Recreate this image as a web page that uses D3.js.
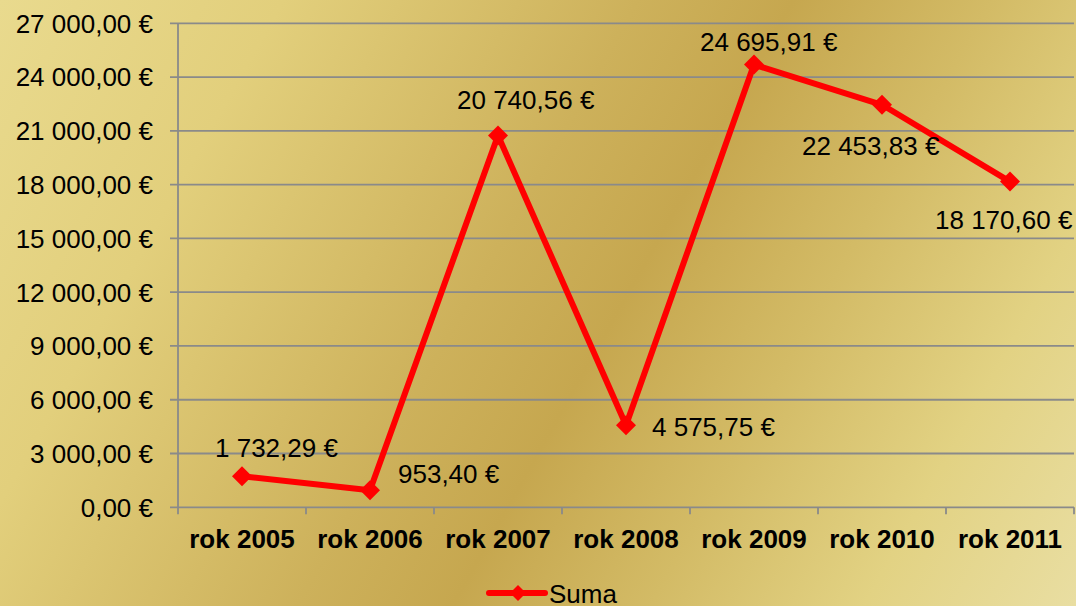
<!DOCTYPE html>
<html>
<head>
<meta charset="utf-8">
<script src="https://cdn.jsdelivr.net/npm/d3@7"></script>
<style>
  body { margin: 0; }
  svg { display: block; font-family: "Liberation Sans", Arial, sans-serif; }
</style>
</head>
<body>
<div id="chart"></div>
<script>
// data
var years = ["rok 2005", "rok 2006", "rok 2007", "rok 2008", "rok 2009", "rok 2010", "rok 2011"];
var suma = [1732.29, 953.40, 20740.56, 4575.75, 24695.91, 22453.83, 18170.60];
var yTicks = [0, 3000, 6000, 9000, 12000, 15000, 18000, 21000, 24000, 27000];
var seriesName = "Suma";

// where each data label sits relative to its point (text start, baseline)
var labelOffsets = [[-27, -19], [28, -7], [-41, -27], [26, 11], [-54, -14], [-80, 50], [-75, 47]];

var width = 1076, height = 606;
var plotLeft = 178, plotRight = 1074, plotTop = 23.3, plotBottom = 507.3;

var loc = d3.formatLocale({ decimal: ",", thousands: " ", grouping: [3], currency: ["", " €"] });
var fmt = function(v) { return loc.format(",.2f")(v) + " €"; };

var svg = d3.select("#chart")
  .append("svg")
    .attr("width", width)
    .attr("height", height);

// golden background
var defs = svg.append("defs");
var grad = defs.append("linearGradient")
    .attr("id", "bg")
    .attr("gradientUnits", "userSpaceOnUse")
    .attr("x1", 0).attr("y1", 0)
    .attr("x2", width).attr("y2", height);
[[0, "#e9da8e"], [0.2, "#e2cf7c"], [0.45, "#cdb15b"], [0.56, "#c6a74f"], [0.7, "#d3bb66"], [0.85, "#e2d283"], [1, "#e9dea2"]]
  .forEach(function(s) {
    grad.append("stop").attr("offset", s[0]).attr("stop-color", s[1]);
  });
svg.append("rect")
    .attr("width", width)
    .attr("height", height)
    .attr("fill", "url(#bg)");

var x = d3.scaleBand().domain(years).range([plotLeft, plotRight]).padding(0);
var y = d3.scaleLinear().domain([0, 27000]).range([plotBottom, plotTop]);
var cx = function(d) { return x(d) + x.bandwidth() / 2; };

// horizontal grid lines with outer tick
svg.append("g")
  .selectAll("line")
  .data(yTicks)
  .enter()
  .append("line")
    .attr("x1", plotLeft - 8)
    .attr("x2", plotRight)
    .attr("y1", function(d) { return y(d); })
    .attr("y2", function(d) { return y(d); })
    .style("stroke", "#8a8a8a")
    .style("stroke-width", 1.8);

// y axis line
svg.append("line")
    .attr("x1", plotLeft).attr("x2", plotLeft)
    .attr("y1", plotTop).attr("y2", plotBottom + 7)
    .style("stroke", "#8a8a8a")
    .style("stroke-width", 1.8);

// x tick marks at category boundaries
svg.append("g")
  .selectAll("line")
  .data(years)
  .enter()
  .append("line")
    .attr("x1", function(d) { return x(d) + x.bandwidth(); })
    .attr("x2", function(d) { return x(d) + x.bandwidth(); })
    .attr("y1", plotBottom)
    .attr("y2", plotBottom + 7)
    .style("stroke", "#8a8a8a")
    .style("stroke-width", 1.8);

// y labels
svg.append("g")
  .selectAll("text")
  .data(yTicks)
  .enter()
  .append("text")
    .attr("x", 153)
    .attr("y", function(d) { return y(d); })
    .attr("dy", "0.36em")
    .attr("text-anchor", "end")
    .style("font-size", "26px")
    .text(fmt);

// x labels
svg.append("g")
  .selectAll("text")
  .data(years)
  .enter()
  .append("text")
    .attr("x", cx)
    .attr("y", 548)
    .attr("text-anchor", "middle")
    .style("font-size", "26px")
    .style("font-weight", "bold")
    .text(function(d) { return d; });

// the line
var line = d3.line()
    .x(function(d, i) { return cx(years[i]); })
    .y(function(d) { return y(d); });

svg.append("path")
    .datum(suma)
    .attr("d", line)
    .style("fill", "none")
    .style("stroke", "#ff0000")
    .style("stroke-width", 6)
    .style("stroke-linejoin", "round");

var diamond = function(r) { return "M0," + (-r) + "L" + r + ",0L0," + r + "L" + (-r) + ",0Z"; };

svg.append("g")
  .selectAll("path")
  .data(suma)
  .enter()
  .append("path")
    .attr("d", diamond(10))
    .attr("transform", function(d, i) { return "translate(" + cx(years[i]) + "," + y(d) + ")"; })
    .style("fill", "#ff0000");

// data labels
svg.append("g")
  .selectAll("text")
  .data(suma)
  .enter()
  .append("text")
    .attr("x", function(d, i) { return cx(years[i]) + labelOffsets[i][0]; })
    .attr("y", function(d, i) { return y(d) + labelOffsets[i][1]; })
    .style("font-size", "26px")
    .text(fmt);

// legend
var lg = svg.append("g").attr("transform", "translate(489,593)");
lg.append("line")
    .attr("x1", 0).attr("x2", 56)
    .attr("y1", 0).attr("y2", 0)
    .style("stroke", "#ff0000")
    .style("stroke-width", 6)
    .style("stroke-linecap", "round");
lg.append("path")
    .attr("d", diamond(8))
    .attr("transform", "translate(29,0)")
    .style("fill", "#ff0000");
lg.append("text")
    .attr("x", 60)
    .attr("y", 10)
    .style("font-size", "26px")
    .text(seriesName);
</script>
</body>
</html>
